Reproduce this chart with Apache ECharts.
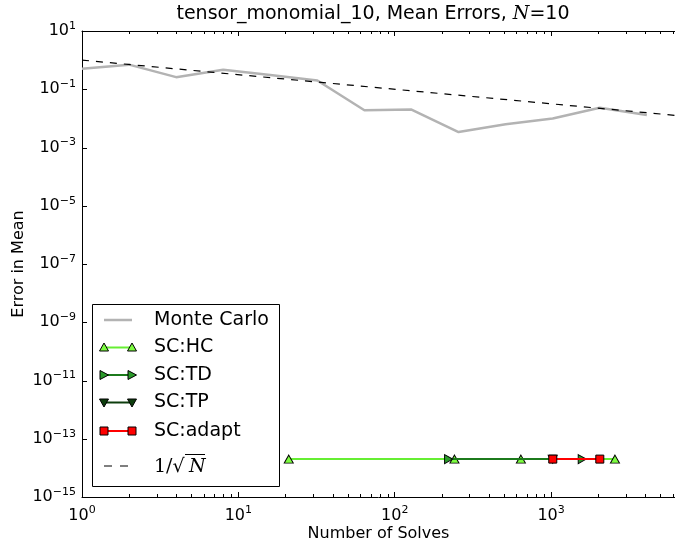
<!DOCTYPE html>
<html>
<head>
<meta charset="utf-8">
<script src="https://cdn.jsdelivr.net/npm/echarts@6/dist/echarts.min.js"></script>
<style>
  html, body { margin: 0; padding: 0; background: #ffffff; }
  #chart { width: 675px; height: 547px; }
</style>
</head>
<body>
<div id="chart"></div>
<script>
// Monte Carlo mean error versus number of solves
const solvesMC = [1, 2, 4, 8, 16, 32, 64, 128, 256, 512, 1024, 2048, 4096];
const errorsMC = [0.51, 0.70, 0.26, 0.47, 0.31, 0.20, 0.019, 0.020, 0.0034, 0.0063, 0.0099, 0.023, 0.013];

// Sparse-grid collocation runs (all at round-off level)
const solvesHC = [21, 241, 641, 2561];
const errorsHC = [2e-14, 2e-14, 2e-14, 2e-14];
const solvesTD = [221, 1581];
const errorsTD = [2e-14, 2e-14];
const solvesTP = [1024];
const errorsTP = [2e-14];
const solvesAdapt = [1025, 2049];
const errorsAdapt = [2e-14, 2e-14];

// Reference rate 1/sqrt(N)
const solvesRef = [1, 6200];
const errorsRef = [1, 0.0127];

// Axis ranges and labelled y decades
const xRange = [1, 6200];
const yRange = [1e-15, 10];
const yLabelExponents = [-15, -13, -11, -9, -7, -5, -3, -1, 1];

const FONT = 'DejaVu Sans';
const SERIF = 'DejaVu Serif';

const pairs = (xs, ys) => xs.map((x, i) => [x, ys[i]]);

// Minor tick positions 2..9 within each decade of the x range
const minorTicks = [];
for (let d = 0; d < 4; d++) {
  for (let m = 2; m <= 9; m++) {
    const v = m * Math.pow(10, d);
    if (v < xRange[1]) minorTicks.push([v, yRange[0]]);
  }
}
const yMajorTicks = yLabelExponents.map(e => [xRange[0], Math.pow(10, e)]);

const expOf = (v) => {
  const l = Math.log10(v);
  const e = Math.round(l);
  return Math.abs(l - e) > 1e-6 ? null : e;
};
const expText = (e) => (e < 0 ? '\u2212' + (-e) : String(e));
const xLabel = (v) => {
  const e = expOf(v);
  return e === null ? '' : '{b|10}{s|' + expText(e) + '}';
};
const yLabel = (v) => {
  const e = expOf(v);
  return (e === null || yLabelExponents.indexOf(e) < 0) ? '' : '{b|10}{s|' + expText(e) + '}';
};
const labelRich = {
  b: { fontFamily: FONT, fontSize: 16, color: '#000' },
  s: { fontFamily: FONT, fontSize: 11, color: '#000', padding: [0, 0, 10, 0] }
};

const triUp = 'path://M5,0 L10,9 L0,9 Z';
const triRight = 'path://M0,0 L9,5 L0,10 Z';
const triDown = 'path://M0,0 L10,0 L5,9 Z';

const cHC = '#66ee33', fHC = '#7cfc40';
const cTD = '#1c7a1c', fTD = '#2a9a2a';
const cTP = '#0d3d0d', fTP = '#0d3d0d';
const cAd = '#ff0000';

const chart = echarts.init(document.getElementById('chart'), null, { renderer: 'canvas' });

// Legend drawn as a framed box with line/marker handles
const legendX = 92, legendY = 304, legendW = 187, legendH = 182;
const rowsY = [320, 347.5, 375, 402.5, 431, 466];
const hx1 = 104, hx2 = 132, tx = 154;
function markerShape(kind, cx, cy, fill) {
  if (kind === 'up') return { type: 'polygon', shape: { points: [[cx, cy - 4.5], [cx + 4.5, cy + 3.5], [cx - 4.5, cy + 3.5]] }, style: { fill, stroke: '#000', lineWidth: 1 } };
  if (kind === 'right') return { type: 'polygon', shape: { points: [[cx - 4, cy - 4.5], [cx + 4.5, cy], [cx - 4, cy + 4.5]] }, style: { fill, stroke: '#000', lineWidth: 1 } };
  if (kind === 'down') return { type: 'polygon', shape: { points: [[cx - 4.5, cy - 3.5], [cx + 4.5, cy - 3.5], [cx, cy + 4.5]] }, style: { fill, stroke: '#000', lineWidth: 1 } };
  return { type: 'rect', shape: { x: cx - 4, y: cy - 4, width: 8, height: 8 }, style: { fill, stroke: '#000', lineWidth: 1 } };
}
const legendEntries = [
  { name: 'Monte Carlo', color: '#b3b3b3', width: 2.5 },
  { name: 'SC:HC', color: cHC, width: 2, marker: 'up', fill: fHC },
  { name: 'SC:TD', color: cTD, width: 2, marker: 'right', fill: fTD },
  { name: 'SC:TP', color: cTP, width: 2, marker: 'down', fill: fTP },
  { name: 'SC:adapt', color: cAd, width: 2, marker: 'square', fill: cAd },
  { name: 'ref', color: '#000', width: 1.2, dash: [8, 8] }
];
const legendChildren = [
  { type: 'rect', shape: { x: legendX + 0.5, y: legendY + 0.5, width: legendW, height: legendH }, style: { fill: '#fff', stroke: '#000', lineWidth: 1 } }
];
legendEntries.forEach((it, i) => {
  const y = rowsY[i];
  legendChildren.push({ type: 'line', shape: { x1: hx1, y1: y, x2: hx2, y2: y }, style: { stroke: it.color, lineWidth: it.width, lineDash: it.dash || null } });
  if (it.marker) {
    legendChildren.push(markerShape(it.marker, hx1, y, it.fill));
    legendChildren.push(markerShape(it.marker, hx2, y, it.fill));
  }
  if (it.name !== 'ref') {
    legendChildren.push({ type: 'text', style: { text: it.name, x: tx, y: y, textVerticalAlign: 'middle', font: '19px "' + FONT + '"', fill: '#000' } });
  }
});
// 1/sqrt(N) label in math style
const refY = rowsY[5];
legendChildren.push({ type: 'text', style: { text: '1/\u221A', x: tx, y: refY + 1, textVerticalAlign: 'middle', font: '19px "' + SERIF + '"', fill: '#000' } });
legendChildren.push({ type: 'text', style: { text: 'N', x: tx + 35, y: refY + 1, textVerticalAlign: 'middle', font: 'italic 19px "' + SERIF + '"', fill: '#000' } });
legendChildren.push({ type: 'line', shape: { x1: tx + 31, y1: refY - 11.5, x2: tx + 51, y2: refY - 11.5 }, style: { stroke: '#000', lineWidth: 1 } });

const baseAxis = {
  type: 'log',
  logBase: 10,
  axisLine: { show: true, lineStyle: { color: '#000', width: 1 } },
  splitLine: { show: false }
};

const crisp = (p) => Math.round(p) + 0.5;

chart.setOption({
  animation: false,
  backgroundColor: '#ffffff',
  grid: { left: 82, top: 31, height: 466, width: 593, containLabel: false, outerBoundsMode: 'none' },
  xAxis: [
    Object.assign({}, baseAxis, {
      position: 'bottom', min: xRange[0], max: xRange[1], interval: 1,
      axisTick: { show: true, inside: true, length: 5, lineStyle: { color: '#000' } },
      axisLabel: { formatter: xLabel, rich: labelRich, margin: 8, showMaxLabel: false },
      name: 'Number of Solves', nameLocation: 'middle', nameGap: 29, nameMoveOverlap: false,
      nameTextStyle: { fontFamily: FONT, fontSize: 16, color: '#000' }
    }),
    Object.assign({}, baseAxis, {
      position: 'top', min: xRange[0], max: xRange[1], interval: 1,
      axisTick: { show: true, inside: true, length: 5, lineStyle: { color: '#000' } },
      axisLabel: { show: false }
    })
  ],
  yAxis: [
    Object.assign({}, baseAxis, {
      position: 'left', min: yRange[0], max: yRange[1], interval: 1,
      axisTick: { show: false },
      axisLabel: { formatter: yLabel, rich: labelRich, margin: 6 },
      name: 'Error in Mean', nameLocation: 'middle', nameGap: 55, nameRotate: 90, nameMoveOverlap: false,
      nameTextStyle: { fontFamily: FONT, fontSize: 16, color: '#000' }
    })
  ],
  graphic: [
    {
      type: 'text', z: 10,
      style: {
        text: 'tensor_monomial_10, Mean Errors, {it|N}=10',
        x: 373, y: 14, textAlign: 'center', textVerticalAlign: 'middle',
        font: '19px "' + FONT + '"', fill: '#000',
        rich: { it: { fontFamily: SERIF, fontStyle: 'italic', fontSize: 19, color: '#000' } }
      }
    },
    { type: 'group', z: 20, children: legendChildren }
  ],
  series: [
    {
      name: 'x minor ticks', type: 'custom', silent: true, clip: false,
      data: minorTicks,
      renderItem: function (params, api) {
        const v = api.value(0);
        const b = api.coord([v, yRange[0]]);
        const t = api.coord([v, yRange[1]]);
        const x = crisp(b[0]);
        return {
          type: 'group', children: [
            { type: 'line', shape: { x1: x, y1: b[1], x2: x, y2: b[1] - 3 }, style: { stroke: '#000', lineWidth: 1 } },
            { type: 'line', shape: { x1: x, y1: t[1], x2: x, y2: t[1] + 3 }, style: { stroke: '#000', lineWidth: 1 } }
          ]
        };
      }
    },
    {
      name: 'y major ticks', type: 'custom', silent: true, clip: false,
      data: yMajorTicks,
      renderItem: function (params, api) {
        const p = api.coord([api.value(0), api.value(1)]);
        const y = crisp(p[1]);
        return { type: 'line', shape: { x1: p[0], y1: y, x2: p[0] + 5, y2: y }, style: { stroke: '#000', lineWidth: 1 } };
      }
    },
    {
      name: 'Monte Carlo', type: 'line', data: pairs(solvesMC, errorsMC),
      symbol: 'none', lineStyle: { color: '#b3b3b3', width: 2.5 }, z: 3
    },
    {
      name: 'SC:HC', type: 'line', data: pairs(solvesHC, errorsHC),
      symbol: triUp, symbolSize: [9, 8], showAllSymbol: true,
      lineStyle: { color: cHC, width: 2 },
      itemStyle: { color: fHC, borderColor: '#000', borderWidth: 1 }, z: 4
    },
    {
      name: 'SC:TD', type: 'line', data: pairs(solvesTD, errorsTD),
      symbol: triRight, symbolSize: [8, 9], showAllSymbol: true,
      lineStyle: { color: cTD, width: 2 },
      itemStyle: { color: fTD, borderColor: '#000', borderWidth: 1 }, z: 5
    },
    {
      name: 'SC:TP', type: 'line', data: pairs(solvesTP, errorsTP),
      symbol: triDown, symbolSize: [9, 8], showAllSymbol: true,
      lineStyle: { color: cTP, width: 2 },
      itemStyle: { color: fTP, borderColor: '#000', borderWidth: 1 }, z: 6
    },
    {
      name: 'SC:adapt', type: 'line', data: pairs(solvesAdapt, errorsAdapt),
      symbol: 'rect', symbolSize: 8, showAllSymbol: true,
      lineStyle: { color: cAd, width: 2 },
      itemStyle: { color: cAd, borderColor: '#000', borderWidth: 1 }, z: 7
    },
    {
      name: '1/sqrt(N)', type: 'line', data: pairs(solvesRef, errorsRef),
      symbol: 'none', lineStyle: { color: '#000', width: 1.2, type: [7, 7] }, z: 8
    }
  ]
});
</script>
</body>
</html>
